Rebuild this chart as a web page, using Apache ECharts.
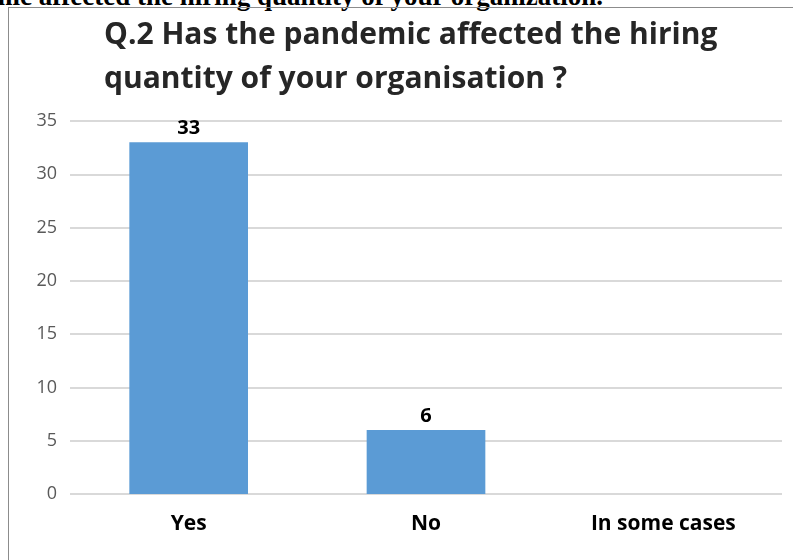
<!DOCTYPE html>
<html>
<head>
<meta charset="utf-8">
<script src="https://cdn.jsdelivr.net/npm/echarts@6/dist/echarts.min.js"></script>
<style>
  html, body { margin: 0; padding: 0; background: #fff; }
  body { width: 793px; height: 560px; position: relative; overflow: hidden; }
  #caption {
    position: absolute; left: -10px; top: -19px; white-space: nowrap;
    font-family: "Liberation Serif", "DejaVu Serif", serif; font-weight: bold; font-size: 27px; color: #000;
  }
  #frame {
    position: absolute; left: 8px; top: 7px; width: 800px; height: 600px;
    border-left: 1px solid #8c8c8c; border-top: 1px solid #8c8c8c;
  }
  #chart { position: absolute; left: 0; top: 0; width: 793px; height: 560px; }
</style>
</head>
<body>
<div id="caption">mic affected the hiring quantity of your organization.</div>
<div id="frame"></div>
<div id="chart"></div>
<script>
const categories = ['Yes', 'No', 'In some cases'];
const responses = [33, 6, 0];
const yTicks = [0, 5, 10, 15, 20, 25, 30, 35];

const chart = echarts.init(document.getElementById('chart'));
const option = {
  animation: false,
  title: {
    text: 'Q.2 Has the pandemic affected the hiring\nquantity of your organisation ?',
    left: 99,
    top: 8,
    textStyle: {
      fontFamily: 'Open Sans',
      fontWeight: 'bold',
      fontSize: 30,
      lineHeight: 44,
      color: '#262626'
    }
  },
  grid: { left: 70, right: 11, top: 121, bottom: 66 },
  xAxis: {
    type: 'category',
    data: categories,
    axisLine: { show: false },
    axisTick: { show: false },
    axisLabel: {
      margin: 20,
      color: '#000',
      fontFamily: 'Open Sans',
      fontWeight: 'bold',
      fontSize: 21
    }
  },
  yAxis: {
    type: 'value',
    min: yTicks[0],
    max: yTicks[yTicks.length - 1],
    interval: 5,
    axisLine: { show: false },
    axisTick: { show: false },
    axisLabel: {
      margin: 13,
      color: '#595959',
      fontFamily: 'Open Sans',
      fontSize: 18
    },
    splitLine: { lineStyle: { color: '#d9d9d9', width: 2 } }
  },
  series: [
    {
      type: 'bar',
      data: responses,
      barWidth: '50%',
      itemStyle: { color: '#5b9bd5' },
      label: {
        show: true,
        position: 'top',
        distance: 4,
        color: '#000',
        fontFamily: 'Open Sans',
        fontWeight: 'bold',
        fontSize: 20,
        formatter: (p) => (p.value ? p.value : '')
      }
    }
  ]
};
chart.setOption(option);
</script>
</body>
</html>
